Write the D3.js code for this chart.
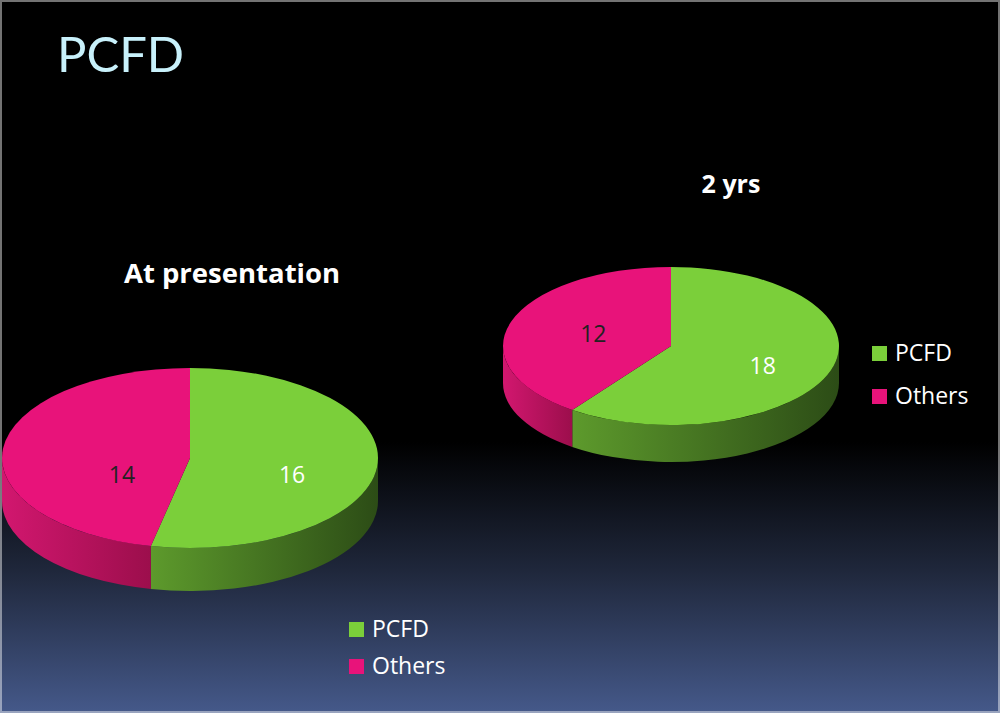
<!DOCTYPE html>
<html><head><meta charset="utf-8">
<script src="https://cdn.jsdelivr.net/npm/d3@7/dist/d3.min.js"></script>
<style>html,body{margin:0;padding:0;background:#000;overflow:hidden}</style>
</head><body>
<script>
const categories = ["PCFD", "Others"];
const atPresentation = [16, 14];
const twoYears = [18, 12];
const pieTitles = ["At presentation", "2 yrs"];
const slideTitle = "PCFD";

const W = 1000, H = 713;
const topColors = ["#7bcf3a", "#e8137a"];
const sideLight = ["#5d9a2c", "#d2176f"];
const sideDark = ["#2c4c16", "#9c0e4c"];
const labelColors = ["#ffffff", "#222222"];
const FONT = "'Open Sans', Lato, sans-serif";

const svg = d3.select("body").append("svg").attr("width", W).attr("height", H);
const defs = svg.append("defs");
const bg = defs.append("linearGradient").attr("id", "bg").attr("x1", 0).attr("y1", 0).attr("x2", 0).attr("y2", 1);
bg.append("stop").attr("offset", "0%").attr("stop-color", "#000");
bg.append("stop").attr("offset", "62%").attr("stop-color", "#000");
bg.append("stop").attr("offset", "80%").attr("stop-color", "#1f273b");
bg.append("stop").attr("offset", "100%").attr("stop-color", "#45598a");
svg.append("rect").attr("width", W).attr("height", H).attr("fill", "url(#bg)");

svg.append("text").text(slideTitle).attr("x", 57).attr("y", 72)
  .attr("font-family", "Lato, 'Open Sans', sans-serif").attr("font-size", 49)
  .attr("fill", "#c8f1fb");

const color = d3.scaleOrdinal().domain(categories).range(topColors);
const pie = d3.pie().sort(null).startAngle(0).endAngle(2 * Math.PI);

function drawPie(id, values, geo, lab, ttl, leg) {
  const { cx, cy, rx, ry, depth } = geo;
  const g = svg.append("g");
  const arcs = pie(values).map((a, i) => Object.assign(a, { cat: categories[i], idx: i }));
  const pt = (a, dy = 0) => [cx + rx * Math.sin(a), cy - ry * Math.cos(a) + dy];
  // sides
  arcs.forEach(a => {
    const s = Math.max(a.startAngle, Math.PI / 2), e = Math.min(a.endAngle, 3 * Math.PI / 2);
    if (e <= s) return;
    const p0 = pt(s), p1 = pt(e), q0 = pt(s, depth), q1 = pt(e, depth);
    const large = (e - s) > Math.PI ? 1 : 0;
    const gid = `side-${id}-${a.idx}`;
    const xs = [p0[0], p1[0]];
    const lg = defs.append("linearGradient").attr("id", gid).attr("gradientUnits", "userSpaceOnUse")
      .attr("x1", Math.min(...xs)).attr("x2", Math.max(...xs)).attr("y1", 0).attr("y2", 0);
    lg.append("stop").attr("offset", "0%").attr("stop-color", sideLight[a.idx]);
    lg.append("stop").attr("offset", "100%").attr("stop-color", sideDark[a.idx]);
    g.append("path").attr("fill", `url(#${gid})`)
      .attr("d", `M${p0}A${rx},${ry} 0 ${large} 1 ${p1}L${q1}A${rx},${ry} 0 ${large} 0 ${q0}Z`);
  });
  // tops
  arcs.forEach(a => {
    const p0 = pt(a.startAngle), p1 = pt(a.endAngle);
    const large = (a.endAngle - a.startAngle) > Math.PI ? 1 : 0;
    g.append("path").attr("fill", color(a.cat))
      .attr("d", `M${cx},${cy}L${p0}A${rx},${ry} 0 ${large} 1 ${p1}Z`);
  });
  // labels
  arcs.forEach(a => {
    const m = (a.startAngle + a.endAngle) / 2;
    g.append("text").text(a.data)
      .attr("x", cx + rx * lab.fx * Math.sin(m) + lab.ox)
      .attr("y", cy - ry * lab.fy * Math.cos(m) + lab.oy)
      .attr("dy", "0.36em")
      .attr("text-anchor", "middle")
      .attr("font-family", FONT).attr("font-size", 23)
      .attr("fill", labelColors[a.idx]);
  });
  // title
  const t = svg.append("text").text(ttl.text).attr("x", ttl.x).attr("y", ttl.y)
    .attr("text-anchor", "middle").attr("font-weight", "bold")
    .attr("font-family", FONT).attr("font-size", ttl.size)
    .attr("fill", "#ffffff");
  // legend
  const lgG = svg.append("g").attr("transform", `translate(${leg.x},${leg.y})`);
  categories.forEach((c, i) => {
    const row = lgG.append("g").attr("transform", `translate(0,${i * leg.gap})`);
    row.append("rect").attr("x", 0).attr("y", -15).attr("width", 15).attr("height", 15).attr("fill", color(c));
    row.append("text").text(c).attr("x", 23).attr("y", 0)
      .attr("font-family", FONT).attr("font-size", 23).attr("fill", "#ffffff");
  });
}

drawPie("a", atPresentation,
  { cx: 190, cy: 458, rx: 188, ry: 90, depth: 43 },
  { fx: 0.455, fy: 0, ox: 17, oy: 17 },
  { text: pieTitles[0], x: 232, y: 283, size: 27.5 },
  { x: 349, y: 637, gap: 37 });
drawPie("b", twoYears,
  { cx: 671, cy: 346, rx: 168, ry: 79, depth: 37 },
  { fx: 0.53, fy: 0.66, ox: 7, oy: 4 },
  { text: pieTitles[1], x: 731, y: 193, size: 25 },
  { x: 872, y: 361, gap: 43 });

svg.append("rect").attr("x", 1).attr("y", 1).attr("width", W - 2).attr("height", H - 2)
  .attr("fill", "none").attr("stroke", "rgba(255,255,255,0.45)").attr("stroke-width", 2);
</script>
</body></html>
